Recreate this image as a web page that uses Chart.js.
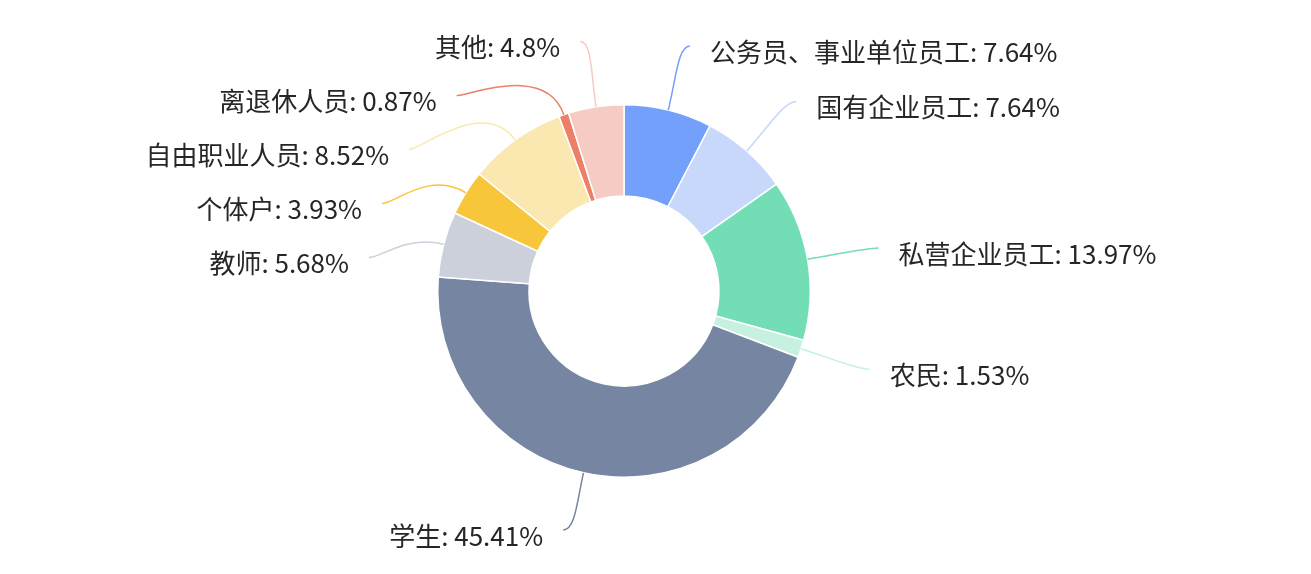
<!DOCTYPE html>
<html>
<head>
<meta charset="utf-8">
<script src="https://cdn.jsdelivr.net/npm/chart.js@4.4.1/dist/chart.umd.min.js"></script>
<style>
  html, body { margin: 0; padding: 0; background: #fff; }
  #wrap { width: 1311px; height: 574px; }
</style>
</head>
<body>
<div id="wrap"><canvas id="pie" width="1311" height="574"></canvas></div>
<script>
// data
const categories = ['公务员、事业单位员工', '国有企业员工', '私营企业员工', '农民', '学生', '教师', '个体户', '自由职业人员', '离退休人员', '其他'];
const shares = [7.64, 7.64, 13.97, 1.53, 45.41, 5.68, 3.93, 8.52, 0.87, 4.8];
const shareLabels = ['7.64%', '7.64%', '13.97%', '1.53%', '45.41%', '5.68%', '3.93%', '8.52%', '0.87%', '4.8%'];

const colors = [
  '#73a0fa', '#c7d8fb', '#73ddb5', '#c6f1e0', '#7585a2',
  '#cbd0da', '#f7c63a', '#fbe8b0', '#eb7f67', '#f6cbc3'
];

// outer labels with curved leader lines
const outerLabels = {
  id: 'outerLabels',
  afterDatasetsDraw(chart) {
    const ctx = chart.ctx;
    const arcs = chart.getDatasetMeta(0).data;
    const cx = arcs[0].x, cy = arcs[0].y, R = arcs[0].outerRadius;
    const r = R + 66, rx = R + 71, gap = 54;
    const maxY = chart.height - 44;

    const items = arcs.map((arc, i) => {
      const mid = (arc.startAngle + arc.endAngle) / 2;
      const cos = Math.cos(mid), sin = Math.sin(mid);
      const side = cos >= 0 ? 1 : -1;
      return {
        i, cos, sin, side,
        sx: cx + cos * R, sy: cy + sin * R,
        x: cx + cos * r + side * 6, y: cy + sin * r,
        moved: false
      };
    });

    [1, -1].forEach(side => {
      const group = items.filter(d => d.side === side).sort((a, b) => a.y - b.y);
      for (let k = 1; k < group.length; k++) {
        const lim = group[k - 1].y + gap;
        if (group[k].y < lim) { group[k].y = lim; group[k].moved = true; }
      }
      group.forEach(d => {
        if (d.moved) {
          const dy = d.y - cy;
          d.x = cx + side * Math.sqrt(Math.max(rx * rx - dy * dy, 0));
        }
        if (d.y > maxY) d.y = maxY;
      });
    });

    ctx.save();
    items.forEach(d => {
      const dist = Math.hypot(d.x - d.sx, d.y - d.sy);
      const k = dist * 0.5;
      ctx.beginPath();
      ctx.moveTo(d.sx, d.sy);
      ctx.bezierCurveTo(d.sx + d.cos * k, d.sy + d.sin * k, d.x - d.side * 12, d.y, d.x, d.y);
      ctx.strokeStyle = colors[d.i];
      ctx.lineWidth = 1.5;
      ctx.stroke();

      ctx.font = '26px "Noto Sans CJK SC", "Noto Sans", sans-serif';
      ctx.fillStyle = '#262626';
      ctx.textBaseline = 'middle';
      ctx.textAlign = d.side > 0 ? 'left' : 'right';
      ctx.fillText(categories[d.i] + ': ' + shareLabels[d.i], d.x + d.side * 20, d.y + 6);
    });
    ctx.restore();
  }
};

const chart = new Chart(document.getElementById('pie').getContext('2d'), {
  type: 'doughnut',
  data: {
    labels: categories,
    datasets: [{
      data: shares,
      backgroundColor: colors,
      borderColor: '#ffffff',
      borderWidth: 1.5,
      hoverOffset: 0
    }]
  },
  options: {
    responsive: false,
    animation: false,
    events: [],
    cutout: '51%',
    layout: { padding: { left: 0, right: 63, top: 104, bottom: 96 } },
    plugins: {
      legend: { display: false },
      tooltip: { enabled: false }
    }
  },
  plugins: [outerLabels]
});
</script>
</body>
</html>
